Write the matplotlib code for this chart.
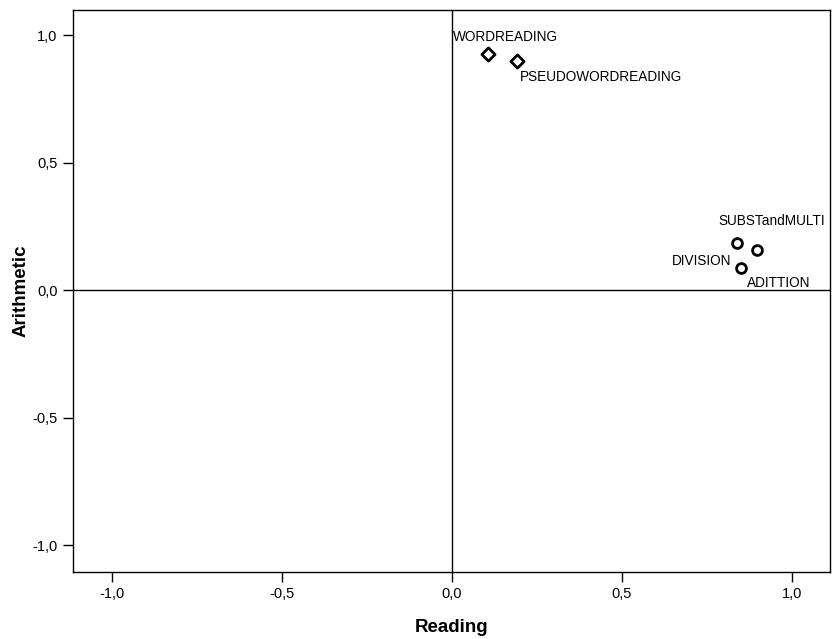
import numpy as np
import matplotlib.pyplot as plt
from matplotlib.ticker import FuncFormatter

plt.rcParams['font.family'] = ['Liberation Sans', 'DejaVu Sans']

# reading tests (diamonds)
read_names = ["WORDREADING", "PSEUDOWORDREADING"]
read_x = np.array([0.108, 0.193])
read_y = np.array([0.928, 0.899])

# arithmetic tests (circles)
arit_names = ["DIVISION", "SUBSTandMULTI", "ADITTION"]
arit_x = np.array([0.838, 0.899, 0.851])
arit_y = np.array([0.183, 0.157, 0.085])

ticks = [-1.0, -0.5, 0.0, 0.5, 1.0]

fig = plt.figure(figsize=(8.33, 6.39), dpi=100)
ax = fig.add_axes([0.0876, 0.1048, 0.9088, 0.8792])

ax.axhline(0, color='black', lw=1)
ax.axvline(0, color='black', lw=1)

ax.scatter(read_x, read_y, marker='D', s=45, facecolor='white',
           edgecolor='black', linewidths=2, zorder=3)
ax.scatter(arit_x, arit_y, marker='o', s=50, facecolor='white',
           edgecolor='black', linewidths=2, zorder=3)

# label offsets in pixels
offs = {"WORDREADING": (-35, 17, 'left'),
        "PSEUDOWORDREADING": (3, -16, 'left'),
        "SUBSTandMULTI": (-39, 29, 'left'),
        "DIVISION": (-5, -18, 'right'),
        "ADITTION": (6, -15, 'left')}
for names, xs, ys in [(read_names, read_x, read_y), (arit_names, arit_x, arit_y)]:
    for n, x, y in zip(names, xs, ys):
        dx, dy, ha = offs[n]
        ax.annotate(n, (x, y), xytext=(dx, dy), textcoords='offset pixels',
                    ha=ha, va='center', fontsize=9.8)

ax.set_xlim(-1.114, 1.113)
ax.set_ylim(-1.106, 1.098)
ax.set_xticks(ticks)
ax.set_yticks(ticks)
fmt = FuncFormatter(lambda v, p: f"{v:.1f}".replace('.', ','))
ax.xaxis.set_major_formatter(fmt)
ax.yaxis.set_major_formatter(fmt)
ax.tick_params(direction='out', length=7, width=1, labelsize=10.5, pad=4)
for s in ax.spines.values():
    s.set_linewidth(1)

ax.set_xlabel("Reading", fontsize=13.5, fontweight='bold', labelpad=13)
ax.set_ylabel("Arithmetic", fontsize=13.5, fontweight='bold', labelpad=2)

fig.savefig("out.png", dpi=100)
